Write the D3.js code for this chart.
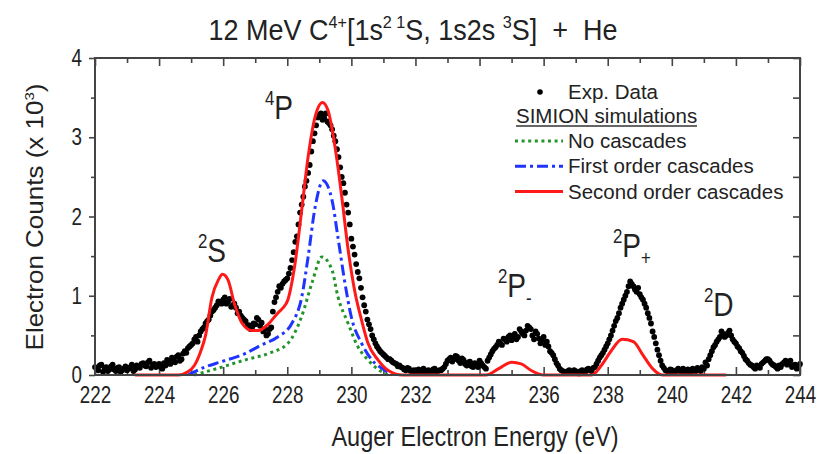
<!DOCTYPE html>
<html>
<head>
<meta charset="utf-8">
<script src="https://cdn.jsdelivr.net/npm/d3@7"></script>
<style>
  body { margin: 0; background: #fff; }
  text { font-family: "Liberation Sans", Arial, sans-serif; fill: #222; white-space: pre; }
</style>
</head>
<body>
<svg id="chart" width="820" height="454"></svg>
<script>
// ---- data (counts in units of 10^3) ----
// experimental spectrum: channels at 222.0, 222.1, ... (A) and 222.05, 222.15, ... (B)
const expStart = 222.0, expStep = 0.1;
const expCountsA = [
  0.10,0.06,0.13,0.08,0.05,0.11,0.07,0.09,0.04,0.08,
  0.06,0.10,0.05,0.12,0.09,0.15,0.11,0.18,0.13,0.10,
  0.14,0.08,0.12,0.17,0.22,0.16,0.25,0.20,0.30,0.34,
  0.38,0.45,0.42,0.55,0.60,0.68,0.75,0.82,0.88,0.92,
  0.95,0.90,0.96,0.88,0.85,0.80,0.72,0.68,0.63,0.60,
  0.64,0.70,0.66,0.58,0.52,0.60,0.92,1.05,1.10,1.18,
  1.22,1.35,1.55,1.75,2.05,2.25,2.45,2.65,2.95,3.15,
  3.28,3.22,3.30,3.18,3.10,2.95,2.75,2.50,2.30,2.05,
  1.72,1.52,1.30,1.10,0.88,0.70,0.58,0.45,0.36,0.30,
  0.26,0.22,0.20,0.16,0.14,0.12,0.09,0.06,0.08,0.05,
  0.04,0.07,0.05,0.03,0.06,0.04,0.08,0.05,0.06,0.10,
  0.18,0.22,0.20,0.23,0.15,0.19,0.12,0.17,0.10,0.14,
  0.18,0.12,0.08,0.22,0.30,0.35,0.42,0.38,0.45,0.48,
  0.44,0.52,0.48,0.55,0.50,0.62,0.58,0.45,0.52,0.40,
  0.48,0.42,0.30,0.25,0.15,0.08,0.05,0.03,0.06,0.04,
  0.05,0.02,0.06,0.04,0.08,0.05,0.10,0.18,0.25,0.32,
  0.40,0.50,0.62,0.72,0.85,0.95,1.05,1.18,1.12,1.05,
  1.02,0.95,0.85,0.72,0.55,0.40,0.25,0.12,0.06,0.04,
  0.06,0.03,0.08,0.05,0.04,0.07,0.03,0.06,0.09,0.05,
  0.08,0.12,0.25,0.35,0.42,0.48,0.52,0.50,0.56,0.45,
  0.40,0.34,0.28,0.20,0.15,0.12,0.08,0.10,0.14,0.18,
  0.20,0.15,0.12,0.08,0.10,0.16,0.13,0.18,0.12,0.08,
  0.14
];
const expCountsB = [
  0.08,0.12,0.04,0.10,0.07,0.13,0.05,0.10,0.06,0.11,
  0.08,0.13,0.07,0.10,0.14,0.12,0.16,0.09,0.14,0.12,
  0.10,0.15,0.19,0.14,0.20,0.23,0.18,0.27,0.28,0.36,
  0.40,0.48,0.50,0.58,0.65,0.70,0.80,0.85,0.93,0.90,
  0.98,0.92,0.86,0.90,0.78,0.75,0.70,0.62,0.58,0.65,
  0.72,0.62,0.55,0.50,0.58,0.80,0.98,1.12,1.15,1.20,
  1.28,1.45,1.68,1.90,2.15,2.38,2.55,2.82,3.05,3.25,
  3.30,3.25,3.20,3.15,3.02,2.85,2.62,2.42,2.15,1.90,
  1.62,1.40,1.22,0.98,0.80,0.64,0.50,0.40,0.33,0.28,
  0.24,0.20,0.18,0.15,0.11,0.10,0.07,0.09,0.05,0.06,
  0.05,0.04,0.08,0.05,0.03,0.07,0.04,0.06,0.08,0.14,
  0.20,0.17,0.24,0.18,0.21,0.14,0.16,0.11,0.15,0.10,
  0.15,0.10,0.18,0.26,0.33,0.38,0.40,0.46,0.42,0.50,
  0.48,0.45,0.58,0.52,0.56,0.60,0.50,0.55,0.46,0.44,
  0.38,0.36,0.28,0.20,0.12,0.06,0.04,0.05,0.03,0.06,
  0.03,0.05,0.04,0.07,0.06,0.09,0.14,0.22,0.28,0.36,
  0.45,0.56,0.68,0.78,0.90,1.00,1.12,1.15,1.08,1.10,
  0.98,0.90,0.78,0.65,0.48,0.32,0.18,0.09,0.05,0.07,
  0.04,0.06,0.05,0.08,0.06,0.04,0.08,0.05,0.07,0.10,
  0.16,0.20,0.30,0.38,0.45,0.55,0.48,0.53,0.50,0.42,
  0.36,0.30,0.24,0.18,0.13,0.10,0.12,0.09,0.16,0.20,
  0.18,0.13,0.10,0.12,0.14,0.18,0.15,0.10,0.13,0.11
];

// SIMION simulations
const noCascE = [225.1,225.96,226.68,227.4,228.02,228.45,228.77,229.08,229.4,229.58,229.9,230.2,230.52,230.95,231.14];
const noCascV = [0,0.10,0.19,0.27,0.40,0.74,1.16,1.49,1.32,0.99,0.65,0.36,0.19,0.04,0];

const firstE = [224.9,225.43,225.96,226.68,227.2,227.7,228.14,228.45,228.65,228.87,229.12,229.4,229.58,229.8,230.0,230.32,230.64,231.05,231.27];
const firstV = [0,0.10,0.17,0.27,0.38,0.48,0.65,0.98,1.49,2.12,2.45,2.20,1.74,1.16,0.73,0.40,0.19,0.06,0];

const secondE = [223.25,224.6,224.9,225.1,225.3,225.45,225.65,225.85,225.98,226.15,226.35,226.58,226.9,227.1,227.4,227.7,227.85,228.02,228.24,228.45,228.65,228.87,229.1,229.27,229.49,229.7,229.9,230.1,230.32,230.52,230.83,231.14,231.6,234.2,234.6,235.0,235.3,235.6,236.0,237.5,237.8,238.1,238.45,238.8,239.1,239.4,239.7,241.7];
const secondV = [0,0,0.04,0.12,0.30,0.50,0.98,1.20,1.27,1.20,0.90,0.66,0.56,0.56,0.64,0.78,0.84,0.95,1.40,2.08,2.75,3.26,3.44,3.34,2.88,2.25,1.58,1.07,0.69,0.40,0.19,0.06,0,0,0.08,0.16,0.14,0.06,0,0,0.12,0.30,0.45,0.42,0.25,0.08,0,0];

const xMajor = [222,224,226,228,230,232,234,236,238,240,242,244];
const xMinor = [223,225,227,229,231,233,235,237,239,241,243];
const yMajor = [0,1,2,3,4];
const yMinor = [0.5,1.5,2.5,3.5];

const legendItems = ["No cascades", "First order cascades", "Second order cascades"];
const seriesColor = ["#22952a", "#1f35ff", "#ff1a1a"];
const seriesDash = ["3,3.6", "11,4,3,4", null];

// ---- layout ----
const svg = d3.select("#chart");
const x = d3.scaleLinear().domain([222, 244]).range([95, 800]);
const y = d3.scaleLinear().domain([0, 4]).range([375, 58]);
const axisColor = "#444";

// rich text helper: parts = [[text, "n"|"sup"|"sub"], ...]
function rich(px, py, size, k, anchor, parts) {
  const t = svg.append("text")
    .attr("transform", `translate(${px},${py}) scale(${k},1)`)
    .attr("text-anchor", anchor)
    .style("font-size", size + "px");
  let shift = 0;
  parts.forEach(([s, kind]) => {
    let target = 0, fs = size;
    if (kind === "sup") { target = -0.42 * size; fs = size * 0.6; }
    if (kind === "sub") { target = 0.25 * size; fs = size * 0.6; }
    t.append("tspan").attr("dy", target - shift).style("font-size", fs + "px").text(s);
    shift = target;
  });
  return t;
}

// ---- axes ----
function styleAxis(g) {
  g.select(".domain").remove();
  g.selectAll("line").attr("stroke", axisColor).attr("stroke-width", 1.6);
}

svg.append("g").attr("transform", "translate(0,375)")
  .call(d3.axisBottom(x).tickValues(xMajor).tickSizeInner(-8).tickSizeOuter(0).tickPadding(11).tickFormat(d3.format("d")))
  .call(styleAxis)
  .call(g => g.selectAll("text").attr("transform", "scale(0.8,1)").style("font-size", "23.5px").attr("fill", "#222"));
svg.append("g").attr("transform", "translate(0,375)")
  .call(d3.axisBottom(x).tickValues(xMinor).tickSize(-5).tickFormat(""))
  .call(styleAxis);
svg.append("g").attr("transform", "translate(0,58)")
  .call(d3.axisTop(x).tickValues(xMajor).tickSize(-8).tickFormat(""))
  .call(styleAxis);
svg.append("g").attr("transform", "translate(0,58)")
  .call(d3.axisTop(x).tickValues(xMinor).tickSize(-5).tickFormat(""))
  .call(styleAxis);

svg.append("g").attr("transform", "translate(95,0)")
  .call(d3.axisLeft(y).tickValues(yMajor).tickSize(6).tickPadding(7).tickFormat(d3.format("d")))
  .call(styleAxis)
  .call(g => g.selectAll("text")
    .attr("transform", "translate(-13,0) scale(0.8,1)").attr("x", 0)
    .style("font-size", "23.5px").attr("fill", "#222"));
svg.append("g").attr("transform", "translate(95,0)")
  .call(d3.axisLeft(y).tickValues(yMinor).tickSize(4).tickFormat(""))
  .call(styleAxis);
svg.append("g").attr("transform", "translate(800,0)")
  .call(d3.axisRight(y).tickValues(yMajor.concat(yMinor)).tickSize(-7).tickFormat(""))
  .call(styleAxis);

// ---- experimental points ----
const expPts = expCountsA.map((v, i) => [expStart + i * expStep, v])
  .concat(expCountsB.map((v, i) => [expStart + expStep / 2 + i * expStep, v]));
svg.append("g").selectAll("circle").data(expPts).join("circle")
  .attr("cx", d => x(d[0])).attr("cy", d => y(d[1])).attr("r", 2.9)
  .attr("fill", "#000");

// ---- simulation curves ----
const line = d3.line().x(d => x(d[0])).y(d => y(d[1])).curve(d3.curveMonotoneX);
[[noCascE, noCascV], [firstE, firstV], [secondE, secondV]].forEach(([es, vs], i) => {
  svg.append("path")
    .datum(es.map((e, j) => [e, vs[j]]))
    .attr("d", line)
    .attr("fill", "none")
    .attr("stroke", seriesColor[i])
    .attr("stroke-width", 3)
    .attr("stroke-dasharray", seriesDash[i]);
});

// frame
svg.append("rect").attr("x", 95).attr("y", 58).attr("width", 705).attr("height", 317)
  .attr("fill", "none").attr("stroke", axisColor).attr("stroke-width", 2);

// ---- legend ----
svg.append("circle").attr("cx", 540).attr("cy", 92).attr("r", 2.8).attr("fill", "#000");
rich(568, 99, 20.5, 1, "start", [["Exp. Data", "n"]]);
rich(516, 123, 20.5, 1, "start", [["SIMION simulations", "n"]]);
svg.append("line").attr("x1", 516).attr("x2", 697).attr("y1", 126).attr("y2", 126)
  .attr("stroke", "#333").attr("stroke-width", 1.3);
legendItems.forEach((name, i) => {
  const ly = 141 + i * 25.3;
  svg.append("line").attr("x1", 515).attr("x2", 563).attr("y1", ly).attr("y2", ly)
    .attr("stroke", seriesColor[i]).attr("stroke-width", 3)
    .attr("stroke-dasharray", seriesDash[i]);
  rich(568, ly + 7, 20.5, 1, "start", [[name, "n"]]);
});

// ---- peak labels ----
rich(265, 119, 33, 0.85, "start", [["4", "sup"], ["P", "n"]]);
rich(198, 262, 33, 0.85, "start", [["2", "sup"], ["S", "n"]]);
rich(498, 297, 33, 0.85, "start", [["2", "sup"], ["P", "n"], ["-", "sub"]]);
rich(613, 257, 33, 0.85, "start", [["2", "sup"], ["P", "n"], ["+", "sub"]]);
rich(704, 316, 33, 0.85, "start", [["2", "sup"], ["D", "n"]]);

// ---- titles ----
rich(413, 40, 29, 0.93, "middle", [
  ["12 MeV C", "n"], ["4+", "sup"], ["[1s", "n"], ["2 1", "sup"], ["S, 1s2s ", "n"],
  ["3", "sup"], ["S]  +  He", "n"]
]);
rich(475, 446, 27, 0.87, "middle", [["Auger Electron Energy (eV)", "n"]]);
svg.append("text")
  .attr("transform", "translate(43,217) rotate(-90) scale(1,0.9)")
  .attr("text-anchor", "middle")
  .style("font-size", "26px")
  .call(t => {
    t.append("tspan").text("Electron Counts (x 10");
    t.append("tspan").attr("dy", -10).style("font-size", "15px").text("3");
    t.append("tspan").attr("dy", 10).text(")");
  });
</script>
</body>
</html>
